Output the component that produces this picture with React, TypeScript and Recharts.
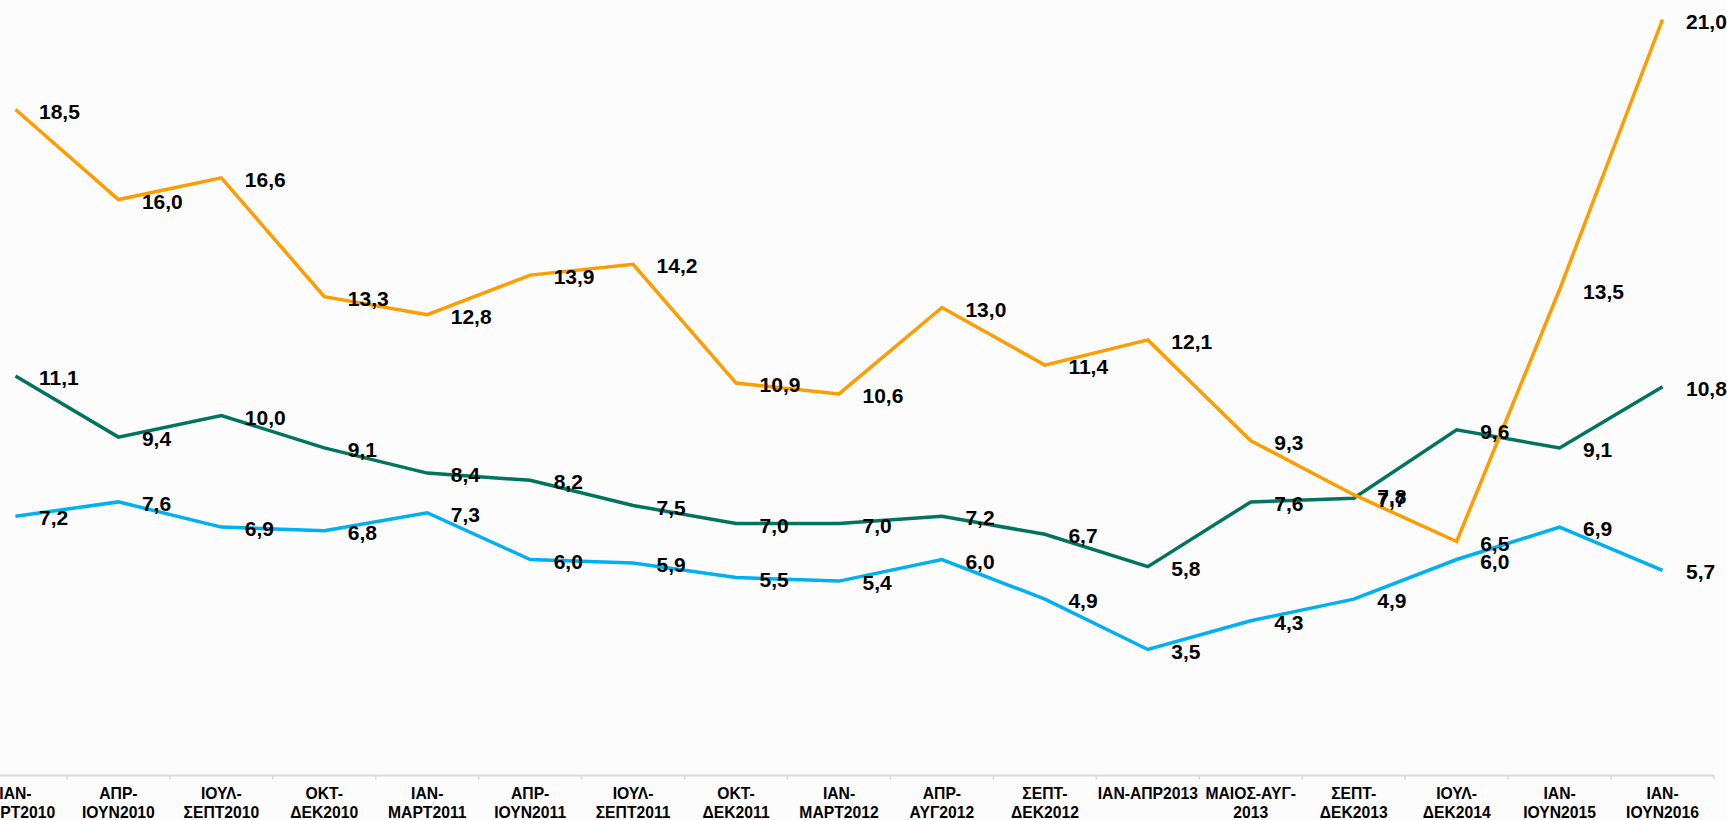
import React from "react";
import { LineChart, Line, XAxis, YAxis } from "recharts";

// Periods (line break = second row of the tick label)
const CATEGORIES = [
  "ΙΑΝ-\nΜΑΡΤ2010",
  "ΑΠΡ-\nΙΟΥΝ2010",
  "ΙΟΥΛ-\nΣΕΠΤ2010",
  "ΟΚΤ-\nΔΕΚ2010",
  "ΙΑΝ-\nΜΑΡΤ2011",
  "ΑΠΡ-\nΙΟΥΝ2011",
  "ΙΟΥΛ-\nΣΕΠΤ2011",
  "ΟΚΤ-\nΔΕΚ2011",
  "ΙΑΝ-\nΜΑΡΤ2012",
  "ΑΠΡ-\nΑΥΓ2012",
  "ΣΕΠΤ-\nΔΕΚ2012",
  "ΙΑΝ-ΑΠΡ2013",
  "ΜΑΙΟΣ-ΑΥΓ-\n2013",
  "ΣΕΠΤ-\nΔΕΚ2013",
  "ΙΟΥΛ-\nΔΕΚ2014",
  "ΙΑΝ-\nΙΟΥΝ2015",
  "ΙΑΝ-\nΙΟΥΝ2016",
];

const ORANGE_VALUES = [18.5, 16.0, 16.6, 13.3, 12.8, 13.9, 14.2, 10.9, 10.6, 13.0, 11.4, 12.1, 9.3, 7.8, 6.5, 13.5, 21.0];
const GREEN_VALUES = [11.1, 9.4, 10.0, 9.1, 8.4, 8.2, 7.5, 7.0, 7.0, 7.2, 6.7, 5.8, 7.6, 7.7, 9.6, 9.1, 10.8];
const BLUE_VALUES = [7.2, 7.6, 6.9, 6.8, 7.3, 6.0, 5.9, 5.5, 5.4, 6.0, 4.9, 3.5, 4.3, 4.9, 6.0, 6.9, 5.7];

const data = CATEGORIES.map((c, i) => ({
  period: c,
  orange: ORANGE_VALUES[i],
  green: GREEN_VALUES[i],
  blue: BLUE_VALUES[i],
}));

const FONT = "'Liberation Sans', Arial, sans-serif";
const PLOT_W = 1750;
const RIGHT_ROOM = 60; // keeps the last labels inside the svg
const CHART_H = 820;
const BAND = PLOT_W / CATEGORIES.length;

const fmt = (v: number) => Number(v).toFixed(1).replace(".", ",");

function CategoryTick(props: any) {
  const { x, y, payload, index } = props;
  const lines = String(payload.value).split("\n");
  return (
    <g>
      <line x1={x - BAND / 2} x2={x - BAND / 2} y1={y} y2={y + 4} stroke="#D9D9D9" strokeWidth={1.5} />
      {index === CATEGORIES.length - 1 && (
        <line x1={x + BAND / 2} x2={x + BAND / 2} y1={y} y2={y + 4} stroke="#D9D9D9" strokeWidth={1.5} />
      )}
      <text x={x} y={y} textAnchor="middle" fontFamily={FONT} fontWeight="bold" fontSize={15.7} fill="#000">
        {lines.map((l, i) => (
          <tspan key={i} x={x} dy={i === 0 ? 23.5 : 19}>
            {l}
          </tspan>
        ))}
      </text>
    </g>
  );
}

// excel-style "right" data label
const renderLabel = (p: any) => {
  const px = p.x ?? p.viewBox?.x;
  const py = p.y ?? p.viewBox?.y;
  if (px == null || py == null || p.value == null) return null;
  return (
    <text
      key={`lbl-${p.index}`}
      x={px + 23.5}
      y={py + 9}
      textAnchor="start"
      fontFamily={FONT}
      fontWeight="bold"
      fontSize={21}
      fill="#000"
    >
      {fmt(p.value)}
    </text>
  );
};

export default function App() {
  return (
    <div
      style={{
        position: "absolute",
        left: 0,
        top: 0,
        width: 1727,
        height: 820,
        overflow: "hidden",
        background: "#FCFCFC",
      }}
    >
      <LineChart
        width={PLOT_W + RIGHT_ROOM}
        height={CHART_H}
        data={data}
        margin={{ top: 1.5, right: RIGHT_ROOM, left: 0, bottom: 0 }}
        style={{ position: "absolute", left: -36.5, top: 0 }}
      >
        <XAxis
          dataKey="period"
          height={44.5}
          interval={0}
          padding={{ left: BAND / 2, right: BAND / 2 }}
          tickLine={false}
          tickSize={0}
          tickMargin={0}
          axisLine={{ stroke: "#D9D9D9", strokeWidth: 2 }}
          tick={<CategoryTick />}
        />
        <YAxis hide domain={[0, 21.5]} width={0} />
        <Line
          type="linear"
          dataKey="blue"
          stroke="#00B0F0"
          strokeWidth={3.5}
          dot={false}
          activeDot={false}
          isAnimationActive={false}
          label={renderLabel}
        />
        <Line
          type="linear"
          dataKey="green"
          stroke="#00745E"
          strokeWidth={3.5}
          dot={false}
          activeDot={false}
          isAnimationActive={false}
          label={renderLabel}
        />
        <Line
          type="linear"
          dataKey="orange"
          stroke="#FF9C00"
          strokeWidth={3.5}
          dot={false}
          activeDot={false}
          isAnimationActive={false}
          label={renderLabel}
        />
      </LineChart>
    </div>
  );
}
